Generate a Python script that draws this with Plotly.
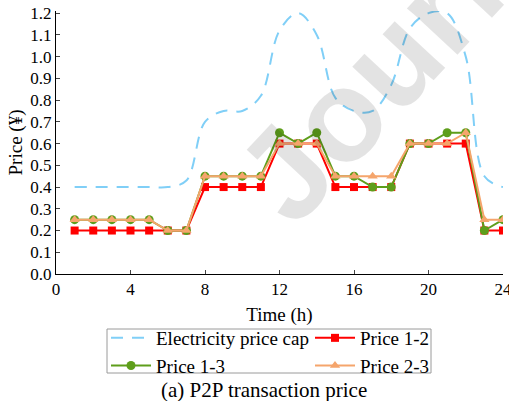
import plotly.graph_objects as go

hours = list(range(1, 25))
cap = [0.40, 0.40, 0.40, 0.40, 0.40, 0.40, 0.43, 0.70, 0.75, 0.75, 0.82, 1.12,
       1.20, 1.10, 0.81, 0.75, 0.75, 0.87, 1.13, 1.20, 1.20, 1.00, 0.45, 0.40]
price_12 = [0.20, 0.20, 0.20, 0.20, 0.20, 0.20, 0.20, 0.40, 0.40, 0.40, 0.40, 0.60,
            0.60, 0.60, 0.40, 0.40, 0.40, 0.40, 0.60, 0.60, 0.60, 0.60, 0.20, 0.20]
price_13 = [0.25, 0.25, 0.25, 0.25, 0.25, 0.20, 0.20, 0.45, 0.45, 0.45, 0.45, 0.65,
            0.60, 0.65, 0.45, 0.45, 0.40, 0.40, 0.60, 0.60, 0.65, 0.65, 0.20, 0.25]
price_23 = [0.25, 0.25, 0.25, 0.25, 0.25, 0.20, 0.20, 0.45, 0.45, 0.45, 0.45, 0.60,
            0.60, 0.60, 0.45, 0.45, 0.45, 0.45, 0.60, 0.60, 0.60, 0.65, 0.25, 0.25]
y_ticks = [round(0.1 * i, 1) for i in range(13)]
x_ticks = [0, 4, 8, 12, 16, 20, 24]

FONT = "Liberation Serif"
W, H = 509, 401
L, R, T, B = 56, 6, 11, 127

fig = go.Figure()
fig.add_trace(go.Scatter(x=hours, y=cap, mode="lines", name="Electricity price cap",
                         line=dict(color="#80cff7", width=2, dash="12px,9px", shape="spline", smoothing=1.0),
                         legend="legend"))
fig.add_trace(go.Scatter(x=hours, y=price_12, mode="lines+markers", name="Price 1-2",
                         line=dict(color="#ff0000", width=2),
                         marker=dict(symbol="square", size=8, color="#ff0000"),
                         legend="legend2"))
fig.add_trace(go.Scatter(x=hours, y=price_13, mode="lines+markers", name="Price 1-3",
                         line=dict(color="#5e9e1b", width=2),
                         marker=dict(symbol="circle", size=9, color="#5e9e1b"),
                         legend="legend"))
fig.add_trace(go.Scatter(x=hours, y=price_23, mode="lines+markers", name="Price 2-3",
                         line=dict(color="#f5a56c", width=2),
                         marker=dict(symbol="triangle-up", size=9, color="#f5a56c"),
                         legend="legend2"))

pw = W - L - R
ph = H - T - B
def px_x(p):
    return (p - L) / pw
def px_y(p):
    return (H - B - p) / ph

fig.update_layout(
    width=W, height=H,
    margin=dict(l=L, r=R, t=T, b=B),
    paper_bgcolor="white", plot_bgcolor="white",
    font=dict(family=FONT, size=17, color="black"),
    xaxis=dict(range=[0, 24], tickvals=x_ticks, ticks="inside", ticklen=4,
               showline=True, linecolor="black", linewidth=1, showgrid=False, zeroline=False,
               ticklabeloverflow="allow", automargin=False,
               title=dict(text="Time (h)", standoff=9, font=dict(family=FONT, size=19)),
               tickfont=dict(family=FONT, size=17)),
    yaxis=dict(range=[0, 1.21], tickvals=y_ticks, tickformat=".1f", ticks="inside", ticklen=4,
               showline=True, linecolor="black", linewidth=1, showgrid=False, zeroline=False,
               automargin=False,
               title=dict(text="Price (¥)", standoff=2, font=dict(family=FONT, size=19)),
               tickfont=dict(family=FONT, size=17)),
    legend=dict(x=px_x(106), y=px_y(319), xanchor="left", yanchor="top",
                bgcolor="rgba(0,0,0,0)", font=dict(family=FONT, size=19), tracegroupgap=0,
                itemwidth=40),
    legend2=dict(x=px_x(310), y=px_y(319), xanchor="left", yanchor="top",
                 bgcolor="rgba(0,0,0,0)", font=dict(family=FONT, size=19), tracegroupgap=0,
                 itemwidth=40),
    shapes=[dict(type="rect", xref="paper", yref="paper",
                 x0=px_x(107), x1=px_x(431), y0=px_y(373), y1=px_y(329),
                 line=dict(color="#9a9a9a", width=1))],
    annotations=[
        dict(text="(a) P2P transaction price", xref="paper", yref="paper",
             x=px_x(264), y=px_y(390), xanchor="center", yanchor="middle",
             showarrow=False, font=dict(family=FONT, size=21)),
        dict(text="<b>Journal</b>", xref="paper", yref="paper",
             x=px_x(421), y=px_y(28), xanchor="center", yanchor="middle",
             showarrow=False, textangle=-47,
             font=dict(family="Liberation Sans", size=130,
                       color="rgba(0,0,0,0.11)")),
    ],
)

fig.write_html("out.html")
